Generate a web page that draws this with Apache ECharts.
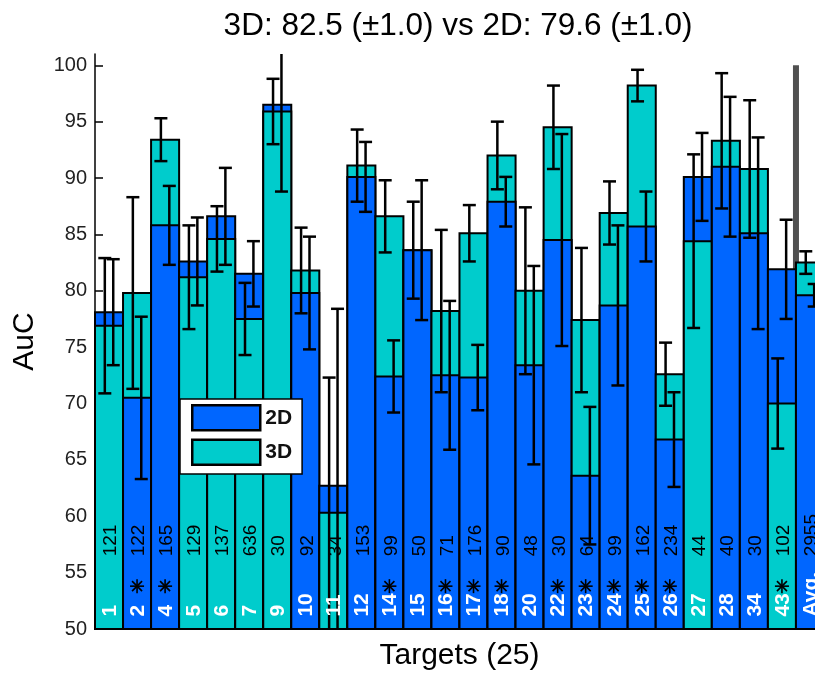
<!DOCTYPE html>
<html>
<head>
<meta charset="utf-8">
<script src="https://cdn.jsdelivr.net/npm/echarts@6/dist/echarts.min.js"></script>
<style>
  html, body { margin: 0; padding: 0; background: #fff; }
  #chart { width: 815px; height: 674px; }
</style>
</head>
<body>
<div id="chart"></div>
<script>
// targets on the x axis, the last one is the average over all of them
let targets = ['1','2','4','5','6','7','9','10','11','12','14','15','16','17','18','20','22','23','24','25','26','27','28','34','43','Avg.'];
let counts = [121,122,165,129,137,636,30,92,34,153,99,50,71,176,90,48,30,64,99,162,234,44,40,30,102,2955];
let starred = ['2','4','14','16','17','18','22','23','24','25','26','43'];

let auc2D = [78.1,70.5,85.8,82.6,86.6,81.5,96.5,79.8,62.7,90.1,72.4,83.6,72.5,72.3,87.9,73.4,84.5,63.6,78.7,85.7,66.8,90.1,91.0,85.1,81.9,79.6];
let auc3D = [76.9,79.8,93.4,81.2,84.6,77.5,95.9,81.8,60.3,91.1,86.6,83.6,78.2,85.1,92.0,80.0,94.5,77.4,86.9,98.2,72.6,84.4,93.3,90.8,70.0,82.5];
let err2D = [4.7,7.2,3.5,3.9,4.3,2.9,7.7,5.0,15.7,3.1,3.2,6.2,6.6,2.9,2.2,8.8,9.4,6.1,7.1,3.1,4.2,3.9,6.2,8.5,4.4,1.0];
let err3D = [6.0,8.5,1.9,4.6,2.9,3.2,2.9,3.8,12.0,3.2,3.2,4.3,7.2,2.5,3.0,7.4,3.7,6.4,2.8,1.4,2.8,7.7,6.0,6.1,4.0,1.0];

let yTicks = [50,55,60,65,70,75,80,85,90,95,100];

const Y_MIN = 50;
const Y_MAX = 101;
const COL_2D = '#0066ff';
const COL_3D = '#00cccc';
const FONT = '"Liberation Sans", Arial, Helvetica, sans-serif';

// where the in-bar texts sit (in axis units)
const NAME_Y = 51.1;
const STAR_Y = 53.8;
const COUNT_Y = 56.45;

let rows = targets.map((t, i) => [i, auc2D[i], auc3D[i], err2D[i], err3D[i]]);

function line(x1, y1, x2, y2, w) {
    return {type: 'line', shape: {x1, y1, x2, y2}, style: {stroke: '#000', lineWidth: w}};
}

function renderBars(params, api) {
    let i = api.value(0);
    let v2 = api.value(1), v3 = api.value(2);
    let bw = api.size([1, 0])[0];
    let base = api.coord([i, Y_MIN]);
    // taller bar behind, shorter one in front
    let order = v2 > v3 ? [[v2, COL_2D], [v3, COL_3D]] : [[v3, COL_3D], [v2, COL_2D]];
    let children = order.map(([v, c]) => {
        let top = api.coord([i, v]);
        return {
            type: 'rect',
            shape: {x: base[0] - bw / 2, y: top[1], width: bw, height: base[1] - top[1]},
            style: {fill: c, stroke: '#000', lineWidth: 2}
        };
    });
    return {type: 'group', children};
}

function renderErrors(params, api) {
    let i = api.value(0);
    let bw = api.size([1, 0])[0];
    let children = [];
    // 3D error bar a bit left of centre, 2D a bit right
    [[api.value(2), api.value(4), -0.15], [api.value(1), api.value(3), 0.15]].forEach(([v, e, off]) => {
        let hiV = v + e, loV = v - e;
        let hi = api.coord([i, Math.min(hiV, Y_MAX)]);
        let lo = api.coord([i, Math.max(loV, Y_MIN)]);
        let x = hi[0] + off * bw;
        children.push(line(x, hi[1], x, lo[1], 2.5));
        if (hiV <= Y_MAX) children.push(line(x - 6.5, hi[1], x + 6.5, hi[1], 2.5));
        if (loV >= Y_MIN) children.push(line(x - 6.5, lo[1], x + 6.5, lo[1], 2.5));
    });
    return {type: 'group', children};
}

function renderLabels(params, api) {
    let i = api.value(0);
    let name = targets[i];
    let children = [];
    let p = api.coord([i, NAME_Y]);
    children.push({
        type: 'text', x: p[0] + 1, y: p[1], rotation: Math.PI / 2,
        style: {text: name, fill: '#fff', font: 'bold 21px ' + FONT,
                textAlign: 'left', textVerticalAlign: 'middle', align: 'left', verticalAlign: 'middle'}
    });
    let c = api.coord([i, COUNT_Y]);
    children.push({
        type: 'text', x: c[0] + 2, y: c[1], rotation: Math.PI / 2,
        style: {text: String(counts[i]), fill: '#000', font: '19px ' + FONT,
                textAlign: 'left', textVerticalAlign: 'middle', align: 'left', verticalAlign: 'middle'}
    });
    if (starred.indexOf(name) >= 0) {
        let s = api.coord([i, STAR_Y]);
        let r = 7, d = 5;
        children.push(line(s[0] - r, s[1], s[0] + r, s[1], 1.6));
        children.push(line(s[0], s[1] - r, s[0], s[1] + r, 1.6));
        children.push(line(s[0] - d, s[1] - d, s[0] + d, s[1] + d, 1.6));
        children.push(line(s[0] - d, s[1] + d, s[0] + d, s[1] - d, 1.6));
    }
    return {type: 'group', children};
}

// grey separator in front of the average bar
function renderSeparator(params, api) {
    let i = api.value(0);
    let bw = api.size([1, 0])[0];
    let top = api.coord([i, 100]);
    let bot = api.coord([i, Y_MIN]);
    let x = top[0] - bw / 2;
    return {type: 'rect', shape: {x: x - 3, y: top[1], width: 6, height: bot[1] - top[1]},
            style: {fill: '#505050'}};
}

let chart = echarts.init(document.getElementById('chart'), null, {renderer: 'canvas'});

let option = {
    animation: false,
    backgroundColor: '#fff',
    title: {
        text: '3D: 82.5 (\u00b11.0) vs 2D: 79.6 (\u00b11.0)',
        left: 458, top: 10, padding: 0, textAlign: 'center',
        textStyle: {fontSize: 31.5, fontWeight: 'normal', color: '#000', fontFamily: FONT}
    },
    legend: {
        data: ['2D', '3D'],
        orient: 'vertical',
        left: 180, top: 399,
        padding: [5, 10, 8, 11],
        itemWidth: 68, itemHeight: 25, itemGap: 7,
        icon: 'rect',
        backgroundColor: '#fff',
        borderColor: '#000', borderWidth: 1.5, borderRadius: 0,
        itemStyle: {borderColor: '#000', borderWidth: 2.5},
        textStyle: {fontSize: 21, fontWeight: 'bold', color: '#111', fontFamily: FONT},
        z: 10,
        selectedMode: false
    },
    grid: {left: 95, right: -9, top: 54, bottom: 45, containLabel: false, outerBoundsMode: 'none'},
    xAxis: {
        type: 'category',
        data: targets,
        boundaryGap: true,
        axisLine: {show: false},
        axisTick: {show: false},
        axisLabel: {show: false},
        splitLine: {show: false},
        name: 'Targets (25)',
        nameLocation: 'middle',
        nameGap: 12,
        nameTextStyle: {fontSize: 30, color: '#000', fontFamily: FONT, verticalAlign: 'top'}
    },
    yAxis: {
        type: 'value',
        min: Y_MIN, max: Y_MAX, interval: 5,
        axisLine: {show: true, lineStyle: {color: '#000', width: 1.5}},
        axisTick: {show: true, inside: true, length: 8, lineStyle: {color: '#000', width: 1.5}, customValues: yTicks},
        axisLabel: {fontSize: 20, color: '#222', margin: 8, fontFamily: FONT, customValues: yTicks},
        splitLine: {show: false},
        name: 'AuC',
        nameLocation: 'middle',
        nameRotate: 90,
        nameGap: 55,
        nameTextStyle: {fontSize: 30, color: '#000', fontFamily: FONT}
    },
    series: [
        {type: 'custom', name: 'sep', z: 1, renderItem: renderSeparator, data: [[targets.length - 1]], silent: true},
        {type: 'custom', name: 'bars', z: 2, renderItem: renderBars, data: rows, silent: true},
        {type: 'custom', name: 'errors', z: 3, renderItem: renderErrors, data: rows, silent: true, clip: true},
        {type: 'custom', name: 'labels', z: 4, renderItem: renderLabels, data: rows, silent: true},
        {type: 'custom', name: '2D', renderItem: () => null, data: [], itemStyle: {color: COL_2D}},
        {type: 'custom', name: '3D', renderItem: () => null, data: [], itemStyle: {color: COL_3D}}
    ]
};

chart.setOption(option);
</script>
</body>
</html>
